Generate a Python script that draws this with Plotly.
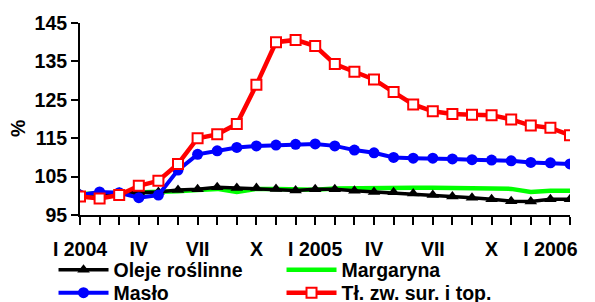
import plotly.graph_objects as go

months = list(range(26))
tick_labels = ["I 2004", "", "", "IV", "", "", "VII", "", "", "X", "", "",
               "I 2005", "", "", "IV", "", "", "VII", "", "", "X", "", "",
               "I 2006", ""]

oleje = [100.4, 100.6, 100.8, 100.9, 101.0, 101.5, 101.7, 102.2, 102.0, 102.0, 101.8, 101.4,
         101.7, 101.7, 101.3, 101.0, 100.9, 100.6, 100.2, 99.8, 99.5, 99.1, 98.6, 98.5, 99.1, 99.1]
margaryna = [100.5, 100.6, 100.8, 100.8, 101.0, 101.2, 101.5, 101.8, 101.0, 101.8, 101.8, 101.6,
             101.6, 101.9, 102.0, 102.0, 102.0, 102.1, 102.1, 102.1, 102.0, 101.9, 101.8, 101.0, 101.3, 101.3]
maslo = [100.2, 101.0, 100.8, 99.5, 100.2, 106.7, 110.8, 111.7, 112.6, 113.0, 113.2, 113.4,
         113.5, 113.0, 111.9, 111.2, 110.0, 109.8, 109.8, 109.6, 109.4, 109.3, 109.1, 108.7, 108.6, 108.3]
tluszcze = [99.8, 99.3, 100.2, 102.6, 103.9, 108.3, 115.0, 116.0, 118.7, 128.9, 140.0, 140.6,
            139.0, 134.3, 132.3, 130.3, 127.0, 123.8, 122.0, 121.3, 121.1, 121.0, 119.9, 118.3, 117.7, 115.8]

FONT = "Liberation Sans, Arial, sans-serif"
FS = 19.5

fig = go.Figure()
fig.add_trace(go.Scatter(x=months, y=margaryna, name="Margaryna", mode="lines", legend="legend",
                         legendrank=2,
                         line=dict(color="#00ff00", width=4.5)))
fig.add_trace(go.Scatter(x=months, y=oleje, name="Oleje roślinne", mode="lines+markers", legend="legend",
                         legendrank=1,
                         line=dict(color="black", width=3.5),
                         marker=dict(symbol="triangle-up", size=11, color="black")))
fig.add_trace(go.Scatter(x=months, y=maslo, name="Masło", mode="lines+markers", legend="legend2",
                         legendrank=1,
                         line=dict(color="#0000ff", width=4),
                         marker=dict(symbol="circle", size=11, color="#0000ff")))
fig.add_trace(go.Scatter(x=months, y=tluszcze, name="Tł. zw. sur. i top.", mode="lines+markers",
                         legend="legend2", legendrank=2,
                         line=dict(color="#ff0000", width=4.5),
                         marker=dict(symbol="square", size=10, color="white",
                                     line=dict(color="#ff0000", width=2))))

leg_common = dict(orientation="h", xref="container", yref="container",
                  x=0.0765, xanchor="left", yanchor="top",
                  entrywidth=163, entrywidthmode="pixels", itemwidth=50,
                  traceorder="normal",
                  font=dict(family=FONT, size=FS, color="black", weight="bold"),
                  tracegroupgap=0, bgcolor="rgba(0,0,0,0)")

fig.update_layout(
    width=595, height=302,
    margin=dict(l=72, r=33, t=15, b=95),
    paper_bgcolor="white", plot_bgcolor="white",
    font=dict(family=FONT, size=FS, color="black", weight="bold"),
    showlegend=True,
    legend=dict(leg_common, y=0.197),
    legend2=dict(leg_common, y=0.121),
    annotations=[dict(text="%", xref="paper", yref="paper", x=-0.128, y=0.45,
                      xanchor="center", yanchor="middle", textangle=-90, showarrow=False,
                      font=dict(family=FONT, size=FS, color="black", weight="bold"))],
)
fig.update_xaxes(range=[0, 25], tickmode="array", tickvals=months, ticktext=tick_labels,
                 showgrid=False, zeroline=False, showline=True, linecolor="black", linewidth=2,
                 ticks="outside", ticklen=8, tickwidth=2, tickcolor="black", ticklabelstandoff=8,
                 tickangle=0, automargin=False, tickfont=dict(family=FONT, size=FS, weight="bold"))
fig.update_yaxes(range=[95, 145], tickmode="array", tickvals=[95, 105, 115, 125, 135, 145],
                 showgrid=False, zeroline=False, showline=True, linecolor="black", linewidth=2,
                 ticks="outside", ticklen=7, tickwidth=2, tickcolor="black", automargin=False,
                 tickfont=dict(family=FONT, size=FS, weight="bold"))

fig.write_html("out.html")
